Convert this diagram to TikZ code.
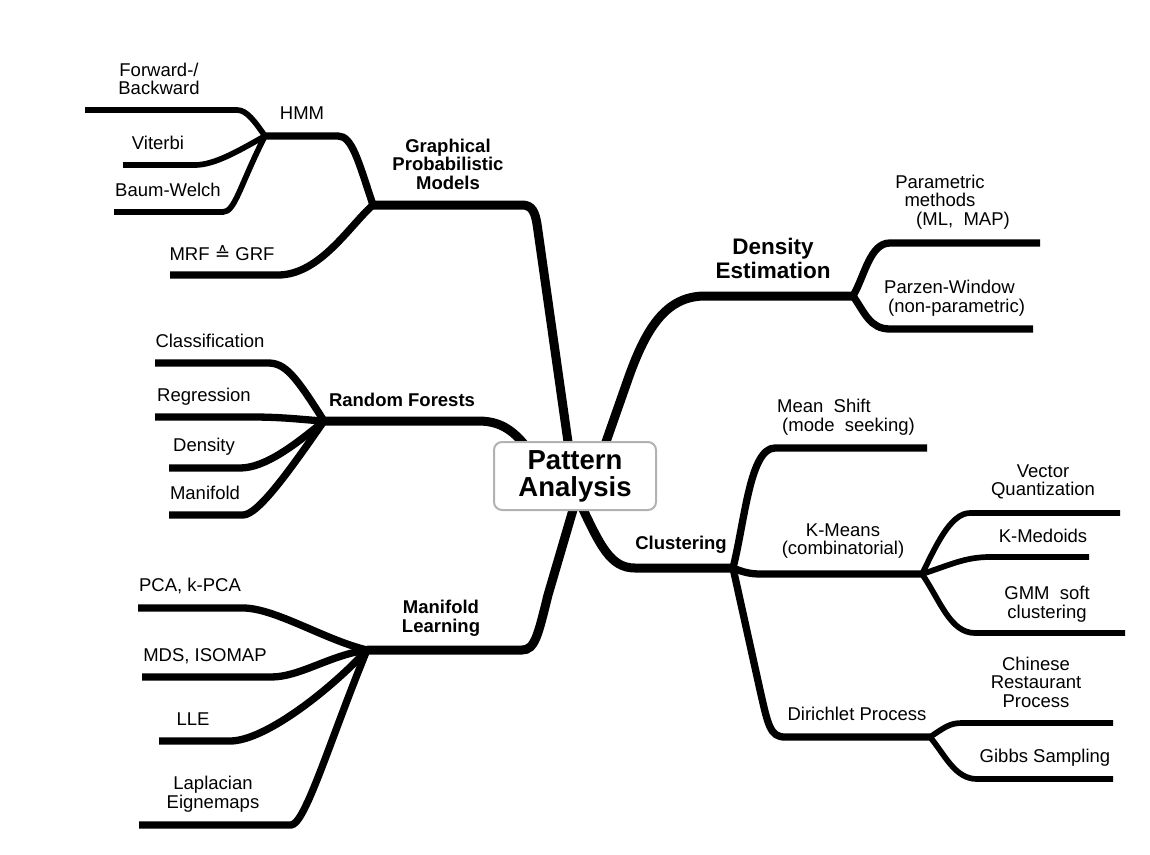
\documentclass[tikz,border=0pt]{standalone}
\usepackage{fontspec}
\setmainfont{Liberation Sans}
\newfontfamily\symfont{DejaVu Sans}
\usetikzlibrary{positioning,backgrounds}

\begin{document}
\begin{tikzpicture}[x=1pt, y=-1pt, line join=round,
		trunk/.style={line width=9pt},
		bough/.style={line width=7.3pt},
		twig/.style={line width=5.7pt},
		lbl/.style={inner sep=0pt, align=center, font=\fontsize{18.5}{18.5}\selectfont},
		topic/.style={inner sep=0pt, align=center, font=\fontsize{18.5}{18.5}\selectfont\bfseries}]
		\useasboundingbox (0,0) rectangle (1150,854);

		% Nodes
		\node[draw=black!30, line width=2pt, rounded corners=8pt, fill=white, minimum width=162pt, minimum height=68pt, inner sep=0pt, align=center, font=\fontsize{27.5}{27}\selectfont\bfseries] (pa) at (575,476) {Pattern\\Analysis};

		% Junctions
		\coordinate (gpm) at (373,205);
		\coordinate (hmm) at (265,136);
		\coordinate (de) at (853,296);
		\coordinate (rf) at (324,421);
		\coordinate (ml) at (367,650);
		\coordinate (cl) at (733,568);
		\coordinate (km) at (922,574);
		\coordinate (dp) at (930,737);

		% Graphical Probabilistic Models labels
		\node[topic] (gpmlbl) at (448,164) {Graphical\\Probabilistic\\Models};
		\node[lbl] (hmmlbl) at (302,113) {HMM};
		\node[lbl] (fb) at (159,79) {Forward-/\\Backward};
		\node[lbl] (vit) at (158,143) {Viterbi};
		\node[lbl] (bw) at (168,190) {Baum-Welch};
		\node[lbl] (mrf) at (222,253) {MRF {\symfont ≙} GRF};

		% Density Estimation labels
		\node[topic, font=\fontsize{22.5}{24}\selectfont\bfseries] (delbl) at (773,258) {Density\\Estimation};
		\node[lbl] (par) at (940,202) {Parametric\\methods\\\hspace*{46pt}(ML,\ \ MAP)};
		\node[lbl, align=left, anchor=west] (parzen) at (884,298) {Parzen-Window\\\hspace*{4pt}(non-parametric)};

		% Random Forests labels
		\node[topic] (rflbl) at (402,400) {Random Forests};
		\node[lbl] (cls) at (210,341) {Classification};
		\node[lbl] (reg) at (204,397) {Regression};
		\node[lbl] (dens) at (204,447) {Density};
		\node[lbl] (mani) at (205,493) {Manifold};

		% Manifold Learning labels
		\node[topic] (mllbl) at (441,618) {Manifold\\Learning};
		\node[lbl] (pca) at (190,586) {PCA, k-PCA};
		\node[lbl] (mds) at (205,656) {MDS, ISOMAP};
		\node[lbl] (lle) at (193,719) {LLE};
		\node[lbl] (lap) at (213,794) {Laplacian\\Eignemaps};

		% Clustering labels
		\node[topic] (cllbl) at (681,545) {Clustering};
		\node[lbl, align=left, anchor=west] (ms) at (777,417) {Mean\ \ Shift\\\hspace*{5pt}(mode\ \ seeking)};
		\node[lbl] (kmlbl) at (843,541) {K-Means\\(combinatorial)};
		\node[lbl] (dplbl) at (857,714) {Dirichlet Process};
		\node[lbl] (vq) at (1043,482) {Vector\\Quantization};
		\node[lbl] (kmed) at (1043,536) {K-Medoids};
		\node[lbl] (gmm) at (1047,604) {GMM\ \ soft\\clustering};
		\node[lbl] (crp) at (1036,682) {Chinese\\Restaurant\\Process};
		\node[lbl] (gibbs) at (1045,758) {Gibbs Sampling};

		\begin{scope}[on background layer]
			% Graphical Probabilistic Models
			\draw[trunk] ([xshift=-6pt,yshift=-8pt]pa.north) -- (537,224) .. controls (535,212) and (532,205) .. (522,205) -- (gpm);
			\draw[bough] (gpm) .. controls (358,160) and (352,136) .. (338,136) -- (hmm);
			\draw[twig] (hmm) .. controls (255,122) and (247,110) .. (237,110) -- (85,110);
			\draw[twig] (hmm) .. controls (240,150) and (215,165) .. (195,165) -- (123,165);
			\draw[twig] (hmm) .. controls (240,185) and (235,212) .. (223,212) -- (114,212);
			\draw[bough] (gpm) .. controls (350,225) and (320,275) .. (278,275) -- (170,275);

			% Density Estimation
			\draw[trunk] ([xshift=28.5pt,yshift=-8pt]pa.north) -- (627,382) .. controls (645,330) and (665,296) .. (705,296) -- (de);
			\draw[bough] (de) .. controls (865,275) and (870,243) .. (890,243) -- (1040,243);
			\draw[bough] (de) .. controls (865,313) and (870,329) .. (890,329) -- (1033,329);

			% Random Forests
			\draw[trunk] ([xshift=-47pt,yshift=-8pt]pa.north) .. controls (512,428) and (498,421) .. (478,421) -- (rf);
			\draw[bough] (rf) .. controls (295,375) and (285,363) .. (268,363) -- (155,363);
			\draw[bough] (rf) .. controls (305,420) and (285,417) .. (252,417) -- (155,417);
			\draw[bough] (rf) .. controls (295,445) and (265,468) .. (240,468) -- (169,468);
			\draw[bough] (rf) .. controls (290,470) and (258,515) .. (243,515) -- (169,515);

			% Manifold Learning
			\draw[trunk] ([yshift=8pt]pa.south) -- (548,595) .. controls (538,635) and (535,650) .. (522,650) -- (ml);
			\draw[bough] (ml) .. controls (325,640) and (275,608) .. (243,608) -- (138,608);
			\draw[bough] (ml) .. controls (330,655) and (300,677) .. (271,677) -- (142,677);
			\draw[bough] (ml) .. controls (330,690) and (265,741) .. (230,741) -- (159,741);
			\draw[bough] (ml) .. controls (330,740) and (305,825) .. (291,825) -- (139,825);

			% Clustering
			\draw[trunk] ([xshift=5pt,yshift=8pt]pa.south) .. controls (600,545) and (610,568) .. (635,568) -- (cl);
			\draw[bough] (cl) .. controls (745,520) and (750,448) .. (775,448) -- (927,448);
			\draw[bough] (cl) .. controls (750,575) and (755,574) .. (775,574) -- (km);
			\draw[bough] (cl) -- (760,690) .. controls (768,725) and (770,737) .. (785,737) -- (dp);
			\draw[twig] (km) .. controls (935,548) and (950,513) .. (970,513) -- (1120,513);
			\draw[twig] (km) .. controls (950,565) and (965,557) .. (990,557) -- (1089,557);
			\draw[twig] (km) .. controls (940,600) and (950,633) .. (975,633) -- (1125,633);
			\draw[twig] (dp) .. controls (945,727) and (950,723) .. (962,723) -- (1113,723);
			\draw[twig] (dp) .. controls (945,755) and (955,779) .. (977,779) -- (1113,779);
		\end{scope}
	\end{tikzpicture}
\end{document}
